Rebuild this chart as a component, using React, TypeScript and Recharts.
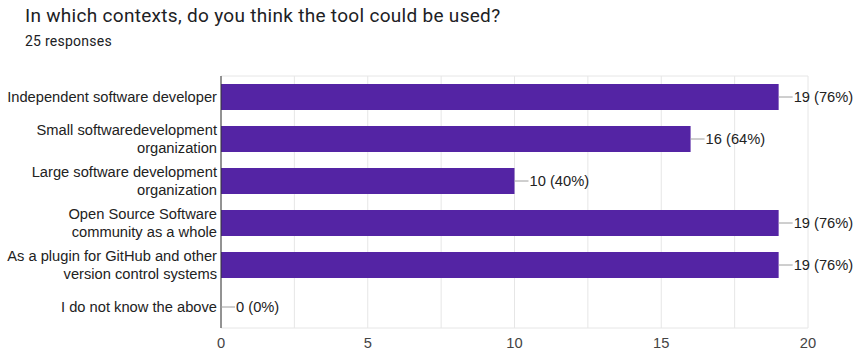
import React from 'react';
import { BarChart, Bar, XAxis, YAxis, CartesianGrid, ReferenceDot } from 'recharts';

const titleText = 'In which contexts, do you think the tool could be used?';
const subtitleText = '25 responses';
const categories = [
  'Independent software developer',
  'Small softwaredevelopment\norganization',
  'Large software development\norganization',
  'Open Source Software\ncommunity as a whole',
  'As a plugin for GitHub and other\nversion control systems',
  'I do not know the above',
];
const counts = [19, 16, 10, 19, 19, 0];
const totalResponses = 25;
const xTicks = [0, 2.5, 5, 7.5, 10, 12.5, 15, 17.5, 20];
const labeledTicks = [0, 5, 10, 15, 20];

const data = categories.map((c, i) => ({
  category: c,
  count: counts[i],
  label: `${counts[i]} (${Math.round((counts[i] / totalResponses) * 100)}%)`,
}));

const FONT = '"Liberation Sans", Arial, sans-serif';
const FS = 14.7;

const CategoryTick = (props: any) => {
  const { x, y, payload } = props;
  const lines = String(payload.value).split('\n');
  const lh = 18;
  const startY = Number(y) - ((lines.length - 1) * lh) / 2;
  return (
    <text x={x} y={startY} textAnchor="end" fontSize={FS} fill="#222" fontFamily={FONT}>
      {lines.map((l, i) => (
        <tspan key={i} x={x} y={startY + i * lh} dy="0.35em">
          {l}
        </tspan>
      ))}
    </text>
  );
};

const makeLabelShape = (text: string) => (props: any) => {
  const x0 = Number(props.cx);
  const cy = Number(props.cy);
  return (
    <g>
      <line x1={x0} x2={x0 + 14} y1={cy} y2={cy} stroke="#9e9e9e" strokeWidth={1} />
      <text x={x0 + 15} y={cy} dy="0.35em" fontSize={FS} fill="#222" fontFamily={FONT}>
        {text}
      </text>
    </g>
  );
};

export default function App() {
  return (
    <div style={{ position: 'absolute', left: 0, top: 0, width: 858, height: 359, background: '#fff' }}>
      <BarChart
        width={858}
        height={359}
        data={data}
        layout="vertical"
        margin={{ top: 76, right: 50, bottom: 0, left: 0 }}
      >
        <CartesianGrid
          stroke="#e6e6e6"
          vertical={true}
          horizontal={true}
          horizontalCoordinatesGenerator={({ offset }: any) => [offset.top, offset.top + offset.height]}
        />
        <XAxis
          type="number"
          domain={[0, 20]}
          ticks={xTicks}
          tickFormatter={(v: number) => (labeledTicks.includes(v) ? String(v) : '')}
          axisLine={false}
          tickLine={false}
          tickSize={0}
          tickMargin={10}
          height={31}
          tick={{ fontSize: FS, fill: '#444', fontFamily: FONT }}
          interval={0}
        />
        <YAxis
          type="category"
          dataKey="category"
          width={221}
          axisLine={{ stroke: '#333' }}
          tickLine={false}
          tickSize={0}
          tickMargin={4}
          interval={0}
          tick={<CategoryTick />}
        />
        <Bar dataKey="count" fill="#5424a4" barSize={26} isAnimationActive={false} />
        {data.map((d) => (
          <ReferenceDot
            key={d.category}
            x={d.count}
            y={d.category}
            r={0}
            ifOverflow="visible"
            shape={makeLabelShape(d.label)}
          />
        ))}
      </BarChart>
      <svg
        width={858}
        height={70}
        style={{ position: 'absolute', left: 0, top: 0, pointerEvents: 'none' }}
      >
        <text x={25} y={22} fontSize={19} letterSpacing={0.3} fill="#202124" fontFamily="Roboto, Arial, sans-serif">
          {titleText}
        </text>
        <text x={25} y={46} fontSize={14} letterSpacing={0.25} fill="#202124" fontFamily="Roboto, Arial, sans-serif">
          {subtitleText}
        </text>
      </svg>
    </div>
  );
}
